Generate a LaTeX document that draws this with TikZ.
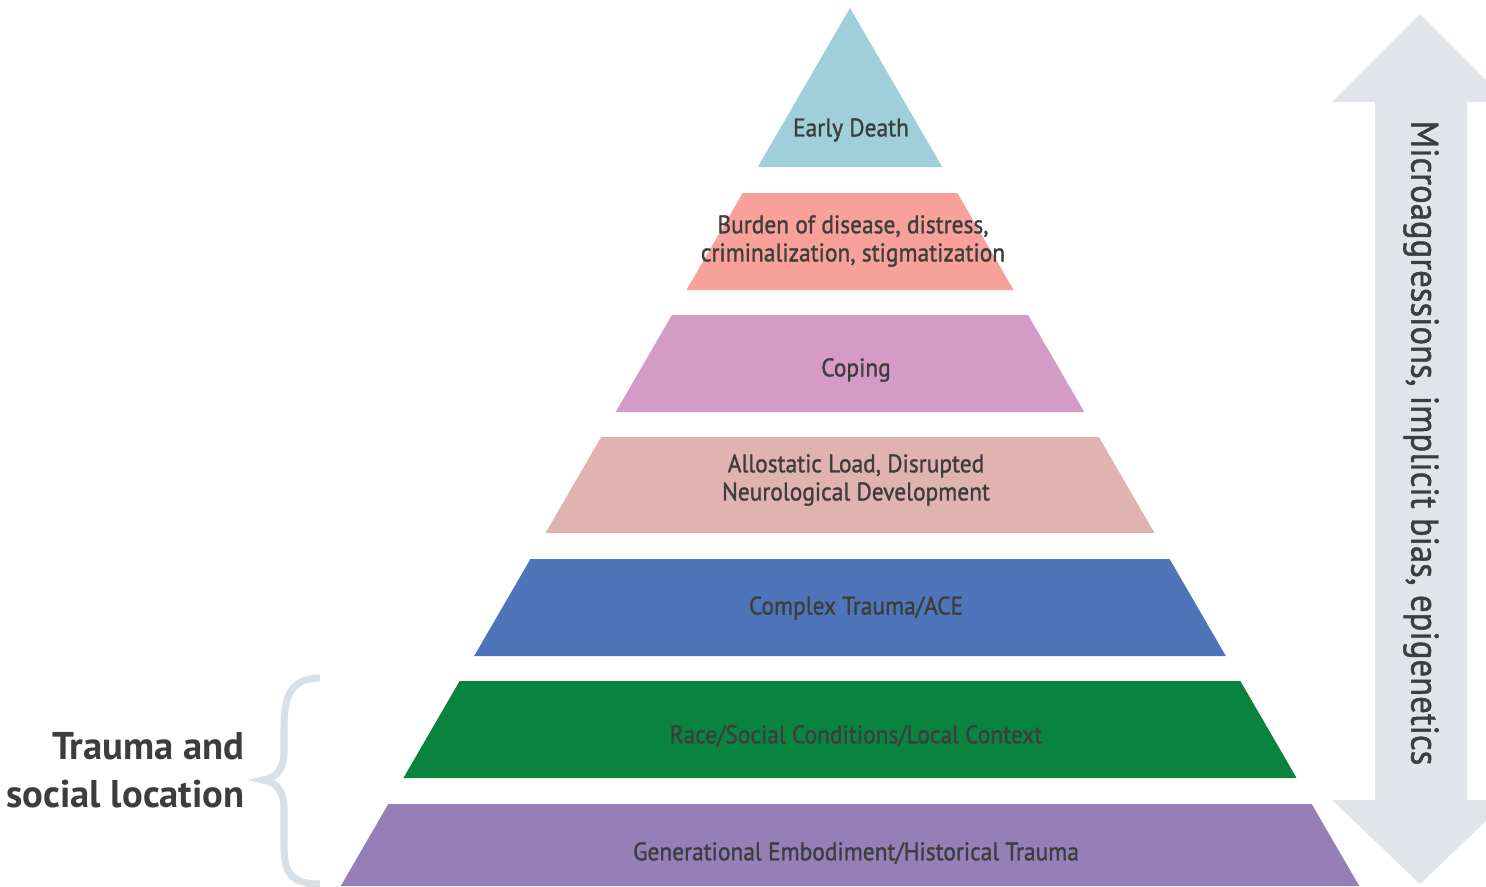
\documentclass[tikz,border=0pt]{standalone}
\usepackage{fontspec}
\setmainfont{PT Sans}
\newfontfamily\labelfont{PT Sans}[FakeBold=1.2]
\usepackage{tikz}
\usetikzlibrary{positioning}

\definecolor{deathblue}{HTML}{9FCFDB}
\definecolor{burdenred}{HTML}{F7A19A}
\definecolor{copingpink}{HTML}{D49BC7}
\definecolor{loadrose}{HTML}{E1B3B0}
\definecolor{traumablue}{HTML}{4E74B9}
\definecolor{racegreen}{HTML}{08843F}
\definecolor{genpurple}{HTML}{967EB7}
\definecolor{arrowgrey}{HTML}{E1E5EA}
\definecolor{bracegrey}{HTML}{D8DFE5}
\definecolor{labelgrey}{HTML}{3D3D3D}

\begin{document}
\begin{tikzpicture}[x=0.02cm, y=-0.02cm,
  layer/.style={text=labelgrey, font=\labelfont\fontsize{14.5}{16}\selectfont, align=center, xscale=0.92},
  sidetext/.style={text=labelgrey, font=\fontsize{22}{27.5}\selectfont\bfseries, align=right, anchor=east, inner sep=0pt}]
\useasboundingbox (0,0) rectangle (1486,886);

% pyramid
\fill[deathblue] (850,8) -- ({850+0.58*159},167) -- ({850-0.58*159},167) -- cycle;
\foreach \t/\b/\c in {193/290/burdenred, 315/412/copingpink, 437/533/loadrose,
    559/656/traumablue, 681/778/racegreen, 804/886/genpurple}
  \fill[\c] ({850-0.58*(\t-8)},\t) -- ({850+0.58*(\t-8)},\t)
    -- ({850+0.58*(\b-8)},\b) -- ({850-0.58*(\b-8)},\b) -- cycle;

\node[layer] (death) at (851,130) {Early Death};
\node[layer] (burden) at (853,241) {Burden of disease, distress,\\criminalization, stigmatization};
\node[layer] (coping) at (856,370) {Coping};
\node[layer] (load) at (856,480) {Allostatic Load, Disrupted\\Neurological Development};
\node[layer] (complex) at (856,608) {Complex Trauma/ACE};
\node[layer] (race) at (856,736) {Race/Social Conditions/Local Context};
\node[layer] (gen) at (856,853) {Generational Embodiment/Historical Trauma};

% double arrow
\fill[arrowgrey] (1420,14) -- (1508,102) -- (1467,102) -- (1467,800) -- (1508,800)
  -- (1420,884) -- (1332,800) -- (1375,800) -- (1375,102) -- (1332,102) -- cycle;
\node[text=labelgrey, font=\labelfont\fontsize{22}{24}\selectfont, rotate=-90, xscale=0.9] (micro) at (1421,443)
  {Microaggressions, implicit bias, epigenetics};

% brace
\draw[bracegrey, line width=4pt]
  (320,678) .. controls (288,678) and (284,700) .. (284,730) -- (284,750)
  .. controls (284,770) and (276,778) .. (263,780)
  .. controls (276,782) and (284,790) .. (284,810) -- (284,845)
  .. controls (284,872) and (290,884) .. (320,884);
\node[sidetext] (trauma) at (245,770) {Trauma and\\social location};
\end{tikzpicture}
\end{document}
